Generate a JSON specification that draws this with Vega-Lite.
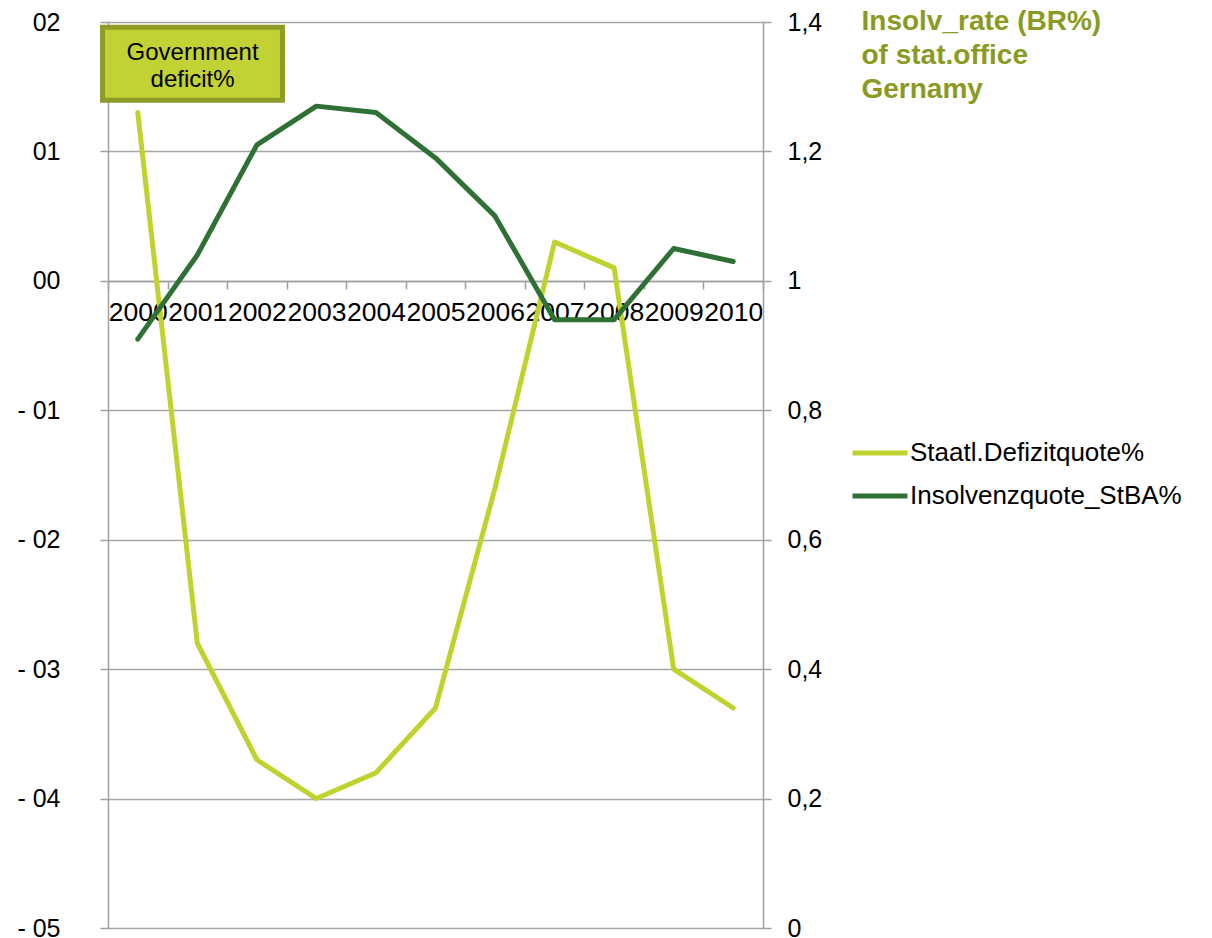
{
  "$schema": "https://vega.github.io/schema/vega-lite/v6.json",
  "width": 655,
  "height": 906,
  "autosize": "none",
  "padding": {"left": 108, "top": 22, "right": 449, "bottom": 10},
  "background": "white",
  "config": {
    "font": "Liberation Sans",
    "view": {"stroke": null},
    "axis": {"domainColor": "#a0a0a0", "domainWidth": 1.5, "tickColor": "#a0a0a0", "tickWidth": 1.5, "gridColor": "#a6a6a6", "gridWidth": 1.5, "labelColor": "black", "labelFont": "Liberation Sans"}
  },
  "data": {
    "values": [
      {"year": "2000", "deficit": 1.3, "insolv": 0.91},
      {"year": "2001", "deficit": -2.8, "insolv": 1.04},
      {"year": "2002", "deficit": -3.7, "insolv": 1.21},
      {"year": "2003", "deficit": -4.0, "insolv": 1.27},
      {"year": "2004", "deficit": -3.8, "insolv": 1.26},
      {"year": "2005", "deficit": -3.3, "insolv": 1.19},
      {"year": "2006", "deficit": -1.6, "insolv": 1.10},
      {"year": "2007", "deficit": 0.3, "insolv": 0.94},
      {"year": "2008", "deficit": 0.1, "insolv": 0.94},
      {"year": "2009", "deficit": -3.0, "insolv": 1.05},
      {"year": "2010", "deficit": -3.3, "insolv": 1.03}
    ]
  },
  "encoding": {
    "x": {
      "field": "year",
      "type": "nominal",
      "sort": null,
      "scale": {"type": "band", "paddingInner": 0, "paddingOuter": 0},
      "axis": {
        "title": null,
        "orient": "bottom",
        "offset": -647,
        "tickBand": "extent",
        "tickSize": 8,
        "labelAngle": 0,
        "labelFontSize": 26.5,
        "labelPadding": 10,
        "labelOverlap": false,
        "labelBound": false,
        "labelFlush": false,
        "grid": false
      }
    }
  },
  "layer": [
    {
      "layer": [
        {
          "mark": {"type": "line", "strokeWidth": 5, "strokeJoin": "round", "strokeCap": "round"},
          "encoding": {
            "y": {
              "field": "deficit",
              "type": "quantitative",
              "scale": {"domain": [-5, 2], "nice": false, "zero": false},
              "axis": {
                "title": null,
                "orient": "left",
                "values": [-5, -4, -3, -2, -1, 0, 1, 2],
                "labelExpr": "datum.value >= 0 ? '0' + datum.value : '- 0' + (-datum.value)",
                "tickSize": 8,
                "labelPadding": 40,
                "labelFontSize": 25,
                "grid": true
              }
            },
            "color": {
              "datum": "Staatl.Defizitquote%",
              "type": "nominal",
              "scale": {"domain": ["Staatl.Defizitquote%", "Insolvenzquote_StBA%"], "range": ["#c0d22e", "#2f7034"]},
              "legend": {
                "title": null,
                "orient": "none",
                "legendX": 742,
                "legendY": 401,
                "padding": 0,
                "symbolType": "stroke",
                "symbolSize": 3025,
                "symbolStrokeWidth": 5,
                "labelFontSize": 26,
                "labelOffset": 0,
                "labelLimit": 0,
                "labelColor": "black",
                "rowPadding": -10
              }
            }
          }
        },
        {
          "data": {"values": [{"label": "Government\ndeficit%"}]},
          "mark": {"type": "rect", "fill": "#c2d134", "stroke": "#8e9b26", "strokeWidth": 5},
          "encoding": {
            "x": {"datum": "2000", "bandPosition": -0.092},
            "x2": {"datum": "2002", "bandPosition": 0.93},
            "y": {"datum": 1.959},
            "y2": {"datum": 1.395}
          }
        },
        {
          "data": {"values": [{"label": "Government\ndeficit%"}]},
          "mark": {"type": "text", "lineBreak": "\n", "fontSize": 24, "color": "black", "align": "center", "baseline": "middle", "lineHeight": 27},
          "encoding": {
            "x": {"datum": "2001", "bandPosition": 0.42},
            "y": {"datum": 1.762},
            "text": {"field": "label"}
          }
        }
      ]
    },
    {
      "mark": {"type": "line", "strokeWidth": 5, "strokeJoin": "round", "strokeCap": "round"},
      "encoding": {
        "y": {
          "field": "insolv",
          "type": "quantitative",
          "scale": {"domain": [0, 1.4], "nice": false},
          "axis": {
            "orient": "right",
            "values": [0, 0.2, 0.4, 0.6, 0.8, 1, 1.2, 1.4],
            "labelExpr": "replace(format(datum.value, '.1~f'), '.', ',')",
            "tickSize": 8,
            "labelPadding": 16,
            "labelFontSize": 25,
            "grid": false,
            "title": ["Insolv_rate (BR%)", "of stat.office", "Gernamy"],
            "titleAngle": 0,
            "titleAlign": "left",
            "titleBaseline": "alphabetic",
            "titleX": 98,
            "titleY": 7,
            "titleFontSize": 28,
            "titleFontWeight": "bold",
            "titleColor": "#8a9a22",
            "titleLineHeight": 34
          }
        },
        "color": {"datum": "Insolvenzquote_StBA%", "type": "nominal"}
      }
    }
  ],
  "resolve": {"scale": {"y": "independent"}}
}
